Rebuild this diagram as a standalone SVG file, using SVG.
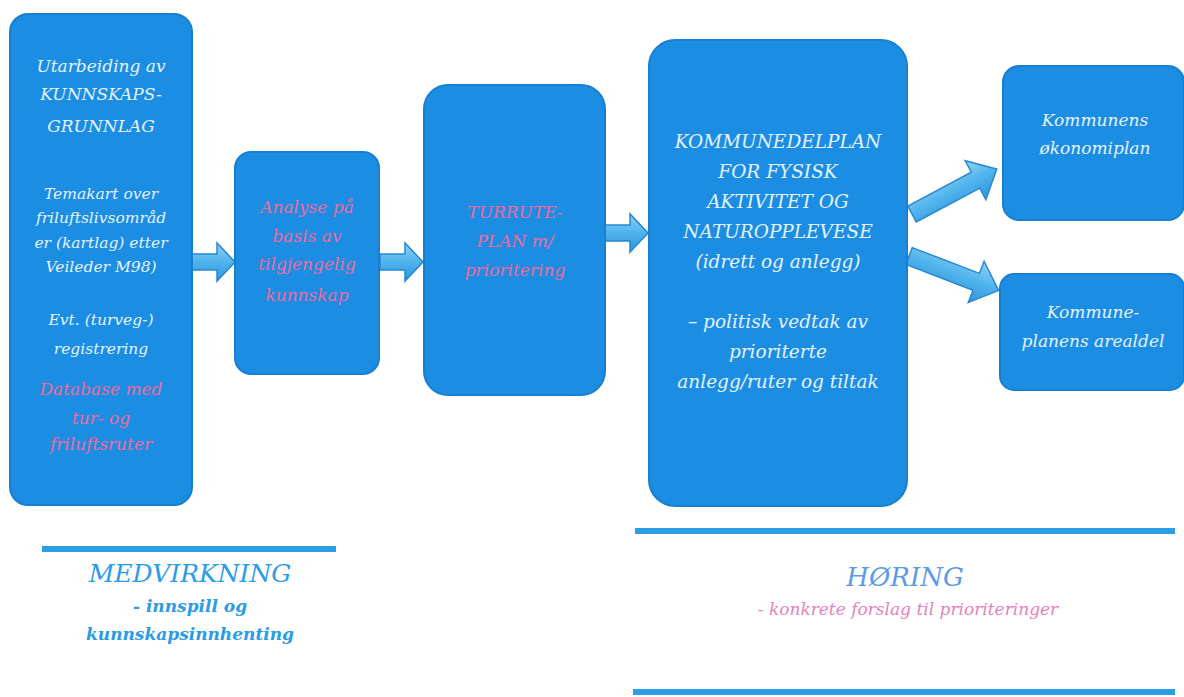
<svg xmlns="http://www.w3.org/2000/svg" width="1184" height="697" viewBox="0 0 1184 697">
<defs>
<linearGradient id="ag" x1="0" y1="0" x2="0" y2="1">
<stop offset="0" stop-color="#8fd3f7"/>
<stop offset="0.5" stop-color="#4fb3ec"/>
<stop offset="1" stop-color="#2f95dc"/>
</linearGradient>
<path id="arr" d="M0,-8 L25,-8 L25,-19 L43,0 L25,19 L25,8 L0,8 Z"/>
<path id="darr" d="M0,-9 L72,-9 L72,-22 L96,0 L72,22 L72,9 L0,9 Z"/>
</defs>
<style>
.box{fill:#1b8de3;stroke:#1a7fcf;stroke-width:2}
.t{font-family:"DejaVu Serif","Liberation Serif",serif;font-style:italic;text-anchor:middle;font-size:17px}
.s15{font-size:15.5px}
.s19{font-size:18.5px}
.w{fill:#e6f3ff}
.p{fill:#ef6a9c}
.b{fill:#2a9be6;font-weight:bold}
.arrow{fill:url(#ag);stroke:#2488d4;stroke-width:1.5}
.rule{stroke:#2c9ee8;stroke-width:6}
</style>
<rect width="1184" height="697" fill="#ffffff"/>

<g id="connectors">
<use href="#arr" class="arrow" transform="translate(192,262)"/>
<use href="#arr" class="arrow" transform="translate(380,262)"/>
<use href="#arr" class="arrow" transform="translate(605,233)"/>
<use href="#darr" class="arrow" transform="translate(912,214) rotate(-28)"/>
<use href="#darr" class="arrow" transform="translate(909,256) rotate(21)"/>
</g>

<g id="node-kunnskap">
<rect class="box" x="10" y="14" width="182" height="491" rx="18"/>
<text class="t w" x="101" y="72">Utarbeiding av</text>
<text class="t w" x="101" y="100">KUNNSKAPS-</text>
<text class="t w" x="101" y="132">GRUNNLAG</text>
<text class="t w s15" x="101" y="199">Temakart over</text>
<text class="t w s15" x="101" y="223">friluftslivsområd</text>
<text class="t w s15" x="101" y="248">er (kartlag) etter</text>
<text class="t w s15" x="101" y="272">Veileder M98)</text>
<text class="t w s15" x="101" y="325">Evt. (turveg-)</text>
<text class="t w s15" x="101" y="354">registrering</text>
<text class="t p" x="101" y="395">Database med</text>
<text class="t p" x="101" y="424">tur- og</text>
<text class="t p" x="101" y="450">friluftsruter</text>
</g>

<g id="node-analyse">
<rect class="box" x="235" y="152" width="144" height="222" rx="16"/>
<text class="t p" x="307" y="213">Analyse på</text>
<text class="t p" x="307" y="242">basis av</text>
<text class="t p" x="307" y="270">tilgjengelig</text>
<text class="t p" x="307" y="301">kunnskap</text>
</g>

<g id="node-turrute">
<rect class="box" x="424" y="85" width="181" height="310" rx="24"/>
<text class="t p" x="515" y="218">TURRUTE-</text>
<text class="t p" x="515" y="247">PLAN m/</text>
<text class="t p" x="515" y="276">prioritering</text>
</g>

<g id="node-kommunedelplan">
<rect class="box" x="649" y="40" width="258" height="466" rx="26"/>
<text class="t w s19" x="778" y="148">KOMMUNEDELPLAN</text>
<text class="t w s19" x="778" y="178">FOR FYSISK</text>
<text class="t w s19" x="778" y="208">AKTIVITET OG</text>
<text class="t w s19" x="778" y="238">NATUROPPLEVESE</text>
<text class="t w s19" x="778" y="268">(idrett og anlegg)</text>
<text class="t w s19" x="778" y="328">– politisk vedtak av</text>
<text class="t w s19" x="778" y="358">prioriterte</text>
<text class="t w s19" x="778" y="388">anlegg/ruter og tiltak</text>
</g>

<g id="node-okonomiplan">
<rect class="box" x="1003" y="66" width="181" height="154" rx="16"/>
<text class="t w" x="1095" y="126">Kommunens</text>
<text class="t w" x="1095" y="154">økonomiplan</text>
</g>

<g id="node-arealdel">
<rect class="box" x="1000" y="274" width="184" height="116" rx="14"/>
<text class="t w" x="1093" y="318">Kommune-</text>
<text class="t w" x="1093" y="347">planens arealdel</text>
</g>

<g id="medvirkning">
<line class="rule" x1="42" y1="549" x2="336" y2="549"/>
<text class="t" x="190" y="582" style="font-size:25px;fill:#2a9be6">MEDVIRKNING</text>
<text class="t b" x="190" y="612">- innspill og</text>
<text class="t b" x="190" y="640">kunnskapsinnhenting</text>
</g>

<g id="horing">
<line class="rule" x1="635" y1="531" x2="1175" y2="531"/>
<text class="t" x="905" y="586" style="font-size:26px;fill:#5a9ae8">HØRING</text>
<text class="t" x="908" y="615" style="font-size:17px;fill:#e77fbf">- konkrete forslag til prioriteringer</text>
<line class="rule" x1="633" y1="692" x2="1175" y2="692"/>
</g>
</svg>
